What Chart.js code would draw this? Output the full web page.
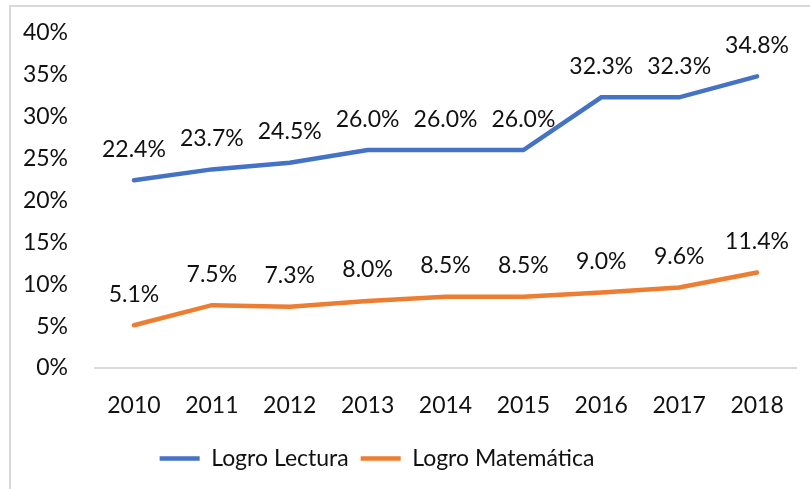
<!DOCTYPE html>
<html>
<head>
<meta charset="utf-8">
<script src="https://cdn.jsdelivr.net/npm/chart.js@4/dist/chart.umd.min.js"></script>
<style>
  html, body { margin: 0; padding: 0; background: #fff; overflow: hidden; }
  #wrap { position: relative; width: 810px; height: 489px; overflow: hidden; }
  #chart { position: absolute; left: -42px; top: 0; }
</style>
</head>
<body>
<div id="wrap"><canvas id="chart" width="852" height="489"></canvas></div>
<script>
const years = ['2010', '2011', '2012', '2013', '2014', '2015', '2016', '2017', '2018'];
const lectura = [22.4, 23.7, 24.5, 26.0, 26.0, 26.0, 32.3, 32.3, 34.8];
const matematica = [5.1, 7.5, 7.3, 8.0, 8.5, 8.5, 9.0, 9.6, 11.4];

const FONT = 'Lato, "Open Sans", sans-serif';
const SHIFT = 42; // canvas starts 42px left of the page so the legend sits where it does in the original

// gray frame of the chart box (top and left edge visible)
const framePlugin = {
    id: 'frame',
    beforeDraw(chart) {
        const ctx = chart.ctx;
        ctx.save();
        ctx.strokeStyle = '#d9d9d9';
        ctx.lineWidth = 2;
        ctx.beginPath();
        ctx.moveTo(SHIFT + 10, 489);
        ctx.lineTo(SHIFT + 10, 6);
        ctx.lineTo(SHIFT + 810, 6);
        ctx.stroke();
        ctx.restore();
    }
};

// value labels above every point
const valueLabels = {
    id: 'valueLabels',
    afterDatasetsDraw(chart) {
        const ctx = chart.ctx;
        ctx.save();
        ctx.font = '23px ' + FONT;
        ctx.fillStyle = '#111';
        ctx.textAlign = 'center';
        ctx.textBaseline = 'middle';
        chart.data.datasets.forEach((ds, i) => {
            chart.getDatasetMeta(i).data.forEach((pt, j) => {
                ctx.fillText(ds.data[j].toFixed(1) + '%', pt.x, pt.y - 31);
            });
        });
        ctx.restore();
    }
};

new Chart(document.getElementById('chart'), {
    type: 'line',
    data: {
        labels: years,
        datasets: [
            {
                label: 'Logro Lectura',
                data: lectura,
                borderColor: '#4472C4',
                backgroundColor: '#4472C4',
                borderWidth: 4.5,
                borderCapStyle: 'round',
                pointRadius: 0,
                tension: 0
            },
            {
                label: 'Logro Matemática',
                data: matematica,
                borderColor: '#ED7D31',
                backgroundColor: '#ED7D31',
                borderWidth: 4.5,
                borderCapStyle: 'round',
                pointRadius: 0,
                tension: 0
            }
        ]
    },
    options: {
        responsive: false,
        animation: false,
        layout: { padding: { left: 0, right: 14, top: 26, bottom: 9 } },
        scales: {
            x: {
                offset: true,
                grid: { display: false },
                border: { display: true, color: '#d9d9d9', width: 2 },
                ticks: { color: '#111', font: { family: FONT, size: 23 }, padding: 16, maxRotation: 0 },
                afterFit(scale) { scale.height = 67; }
            },
            y: {
                min: 0,
                max: 40,
                grid: { display: false },
                border: { display: false },
                ticks: {
                    stepSize: 5,
                    color: '#111',
                    font: { family: FONT, size: 23 },
                    padding: 19,
                    callback: (v) => v + '%'
                },
                afterFit(scale) { scale.width = 95 + SHIFT; }
            }
        },
        plugins: {
            legend: {
                position: 'bottom',
                labels: {
                    usePointStyle: true,
                    pointStyle: 'line',
                    pointStyleWidth: 40,
                    boxWidth: 40,
                    color: '#111',
                    font: { family: FONT, size: 23 },
                    padding: 12
                }
            },
            tooltip: { enabled: false }
        }
    },
    plugins: [framePlugin, valueLabels]
});
</script>
</body>
</html>
